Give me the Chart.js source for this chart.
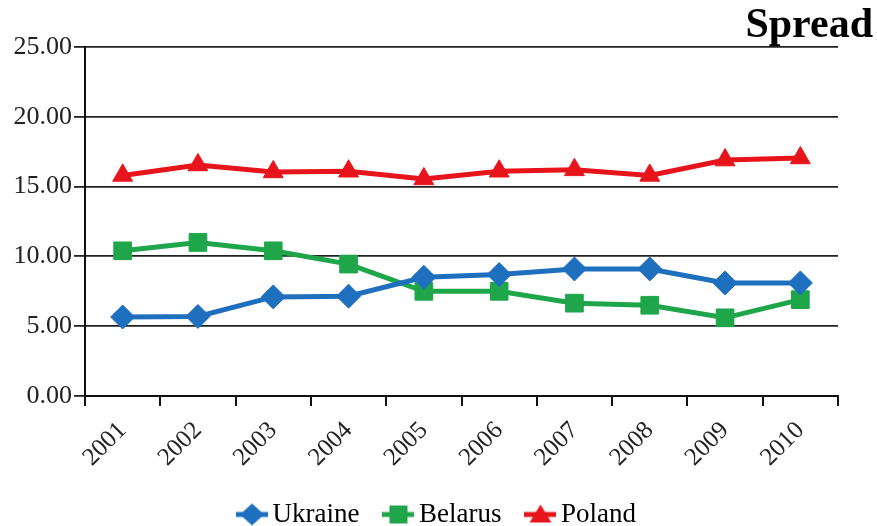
<!DOCTYPE html>
<html>
<head>
<meta charset="utf-8">
<script src="https://cdn.jsdelivr.net/npm/chart.js@4/dist/chart.umd.min.js"></script>
<style>
  html, body { margin: 0; padding: 0; background: #fff; }
  #wrap { width: 877px; height: 526px; }
</style>
</head>
<body>
<div id="wrap"><canvas id="line-chart"></canvas></div>
<script>
var years = ['2001', '2002', '2003', '2004', '2005', '2006', '2007', '2008', '2009', '2010'];
var ukraine = [5.66, 5.7, 7.1, 7.15, 8.5, 8.7, 9.1, 9.1, 8.1, 8.1];
var belarus = [10.4, 11.0, 10.4, 9.45, 7.5, 7.5, 6.65, 6.5, 5.6, 6.9];
var poland = [15.8, 16.55, 16.05, 16.1, 15.55, 16.1, 16.2, 15.8, 16.9, 17.05];
var yTicks = [0, 5, 10, 15, 20, 25];

var blue = '#1f6fbf';
var green = '#1fa64a';
var red = '#e8141c';
var serif = "'Liberation Serif', 'Times New Roman', serif";

// little legend swatch: line segment with the marker on top
function swatch(color, style) {
  var c = document.createElement('canvas');
  c.width = 32; c.height = 24;
  var g = c.getContext('2d');
  g.strokeStyle = color; g.lineWidth = 5;
  g.beginPath(); g.moveTo(0, 12); g.lineTo(32, 12); g.stroke();
  g.fillStyle = color;
  g.beginPath();
  if (style === 'rectRot') {
    g.moveTo(4, 12); g.lineTo(16, 1); g.lineTo(28, 12); g.lineTo(16, 23);
  } else if (style === 'rect') {
    g.rect(7, 3, 18, 18);
  } else {
    g.moveTo(16, 2); g.lineTo(27, 20); g.lineTo(5, 20);
  }
  g.closePath(); g.fill();
  return c;
}

function series(label, values, color, style, radius) {
  return {
    label: label,
    data: values,
    borderColor: color,
    backgroundColor: color,
    borderWidth: 5,
    pointStyle: style,
    pointRadius: radius,
    pointHoverRadius: radius,
    pointBorderWidth: 1,
    pointBorderColor: color,
    tension: 0,
    legendIcon: swatch(color, style)
  };
}

var data = {
  labels: years,
  datasets: [
    series('Ukraine', ukraine, blue, 'rectRot', 12),
    series('Belarus', belarus, green, 'rect', 12.5),
    series('Poland', poland, red, 'triangle', 11.5)
  ]
};

var config = {
  type: 'line',
  data: data,
  options: {
    responsive: true,
    maintainAspectRatio: false,
    animation: false,
    layout: { padding: { left: 8, right: 4, top: 0, bottom: -12 } },
    plugins: {
      title: {
        display: true,
        text: 'Spread',
        align: 'end',
        color: '#000',
        font: { family: serif, size: 42, weight: 'bold', lineHeight: 1 },
        padding: { top: 5, bottom: 0 }
      },
      legend: {
        position: 'bottom',
        labels: {
          usePointStyle: true,
          pointStyleWidth: 14,
          boxHeight: 24,
          padding: 32,
          color: '#222',
          font: { family: serif, size: 27 },
          generateLabels: function (chart) {
            return chart.data.datasets.map(function (ds, i) {
              return {
                text: ds.label,
                pointStyle: ds.legendIcon,
                fillStyle: ds.borderColor,
                strokeStyle: ds.borderColor,
                lineWidth: 0,
                datasetIndex: i,
                hidden: false
              };
            });
          }
        }
      },
      tooltip: { enabled: false }
    },
    scales: {
      x: {
        offset: true,
        grid: { offset: true, drawOnChartArea: false, drawTicks: true, tickLength: 10, color: '#111', lineWidth: 2 },
        border: { display: true, color: '#111', width: 2 },
        ticks: {
          color: '#222',
          font: { family: serif, size: 25 },
          maxRotation: 45,
          minRotation: 45,
          padding: 10
        },
        afterFit: function (scale) { scale.height = 73; }
      },
      y: {
        min: 0,
        max: 25,
        afterBuildTicks: function (scale) {
          scale.ticks = yTicks.map(function (v) { return { value: v }; });
        },
        grid: { color: '#222', lineWidth: 1.8, tickLength: 11 },
        border: { display: true, color: '#111', width: 2 },
        ticks: {
          color: '#222',
          font: { family: serif, size: 26 },
          padding: 2,
          callback: function (v) { return Number(v).toFixed(2); }
        },
        afterFit: function (scale) { scale.width = 77; }
      },
      y2: {
        position: 'right',
        display: true,
        grid: { display: false, drawTicks: false },
        border: { display: false },
        ticks: { display: false },
        afterFit: function (scale) { scale.width = 35; }
      }
    }
  }
};

var ctx = document.getElementById('line-chart').getContext('2d');
new Chart(ctx, config);
</script>
</body>
</html>
